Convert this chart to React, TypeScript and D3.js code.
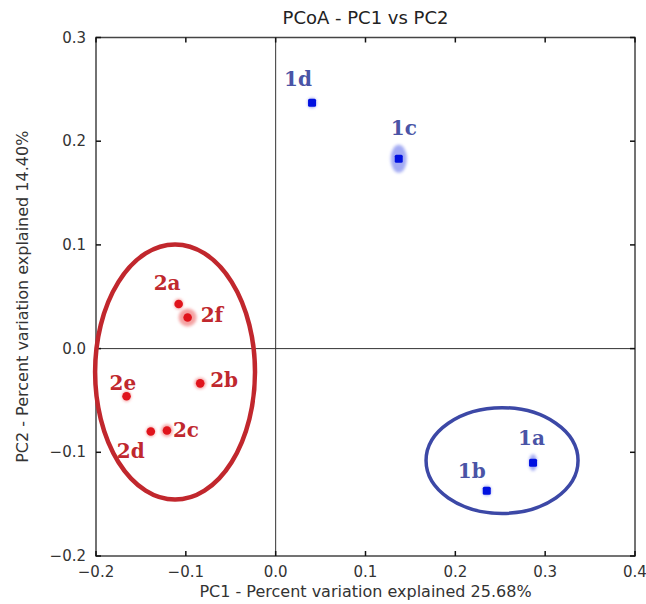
import React from 'react';
import * as d3 from 'd3';

// sample coordinates
const sampleIds = ['1a', '1b', '1c', '1d', '2a', '2b', '2c', '2d', '2e', '2f'];
const sampleGroup = ['1', '1', '1', '1', '2', '2', '2', '2', '2', '2'];
const pc1 = [0.2865, 0.235, 0.137, 0.0405, -0.108, -0.084, -0.121, -0.139, -0.166, -0.098];
const pc2 = [-0.110, -0.137, 0.183, 0.237, 0.043, -0.0335, -0.079, -0.080, -0.046, 0.030];
// jackknife spread (the soft halo round each point)
const pc1Spread = [0.0045, 0.005, 0.009, 0.005, 0.005, 0.0065, 0.0065, 0.005, 0.005, 0.010];
const pc2Spread = [0.008, 0.005, 0.0135, 0.005, 0.005, 0.0055, 0.006, 0.005, 0.005, 0.0087];

// group ellipses
const ellipseGroup = ['1', '2'];
const ellipseCx = [0.252, -0.112];
const ellipseCy = [-0.108, -0.0226];
const ellipseRx = [0.0846, 0.089];
const ellipseRy = [0.051, 0.123];

const xTicks = [-0.2, -0.1, 0.0, 0.1, 0.2, 0.3, 0.4];
const yTicks = [-0.2, -0.1, 0.0, 0.1, 0.2, 0.3];

const title = 'PCoA - PC1 vs PC2';
const xLabel = 'PC1 - Percent variation explained 25.68%';
const yLabel = 'PC2 - Percent variation explained 14.40%';

// label offsets in px from each point (same order as sampleIds)
const labelDx = [-15, -29, -8, -28, -25, 10, 6, -34, -17, 13];
const labelDy = [-18, -13, -24, -17, -14, 4, 6, 26, -6, 5];

const W = 646, H = 604;
const margin = { top: 37.5, right: 11, bottom: 48, left: 96 };

const colors: Record<string, any> = {
  '1': { point: '#0010e0', halo: '#7d88ee', label: '#4a54a6', ring: '#3c48a6' },
  '2': { point: '#e0141c', halo: '#f07a7a', label: '#c0282e', ring: '#c1272d' },
};

const fmt = (v: number) => d3.format('.1f')(v).replace('-', '\u2212');

export default function App() {
  const x = d3.scaleLinear().domain([-0.2, 0.4]).range([margin.left, W - margin.right]);
  const y = d3.scaleLinear().domain([-0.2, 0.3]).range([H - margin.bottom, margin.top]);
  const [x0, x1] = x.range();
  const [y0, y1] = y.range();
  const tick = 5;
  const axisCol = '#444';

  return (
    <svg width={W} height={H} style={{ position: 'absolute', left: 0, top: 0, background: '#fff' }}
      fontFamily="'DejaVu Sans', sans-serif">
      <defs>
        <filter id="soft" x="-1" y="-1" width="3" height="3">
          <feGaussianBlur stdDeviation="1.4" />
        </filter>
      </defs>
      <text x={(x0 + x1) / 2} y={24} textAnchor="middle" fontSize={18} fill="#222">{title}</text>

      {/* zero lines */}
      <line x1={x(0)} x2={x(0)} y1={y1} y2={y0} stroke="#333" strokeWidth={1} />
      <line x1={x0} x2={x1} y1={y(0)} y2={y(0)} stroke="#333" strokeWidth={1} />

      {/* frame */}
      <rect x={x0} y={y1} width={x1 - x0} height={y0 - y1} fill="none" stroke={axisCol} strokeWidth={1.5} />

      {xTicks.map(t => (
        <g key={'xt' + t}>
          <line x1={x(t)} x2={x(t)} y1={y0} y2={y0 - tick} stroke="#111" strokeWidth={1.5} />
          <line x1={x(t)} x2={x(t)} y1={y1} y2={y1 + tick} stroke="#111" strokeWidth={1.5} />
          <text x={x(t)} y={y0 + 21} textAnchor="middle" fontSize={15} fill="#333">{fmt(t)}</text>
        </g>
      ))}
      {yTicks.map(t => (
        <g key={'yt' + t}>
          <line x1={x0} x2={x0 + tick} y1={y(t)} y2={y(t)} stroke="#111" strokeWidth={1.5} />
          <line x1={x1} x2={x1 - tick} y1={y(t)} y2={y(t)} stroke="#111" strokeWidth={1.5} />
          <text x={x0 - 10} y={y(t) + 5} textAnchor="end" fontSize={15} fill="#333">{fmt(t)}</text>
        </g>
      ))}

      <text x={(x0 + x1) / 2} y={597} textAnchor="middle" fontSize={16} fill="#333">{xLabel}</text>
      <text transform={`translate(28,${(y0 + y1) / 2}) rotate(-90)`} textAnchor="middle" fontSize={16} fill="#333">{yLabel}</text>

      {/* group ellipses */}
      {ellipseGroup.map((g, i) => (
        <ellipse key={'e' + g} cx={x(ellipseCx[i])} cy={y(ellipseCy[i])}
          rx={x(ellipseRx[i]) - x(0)} ry={y(0) - y(ellipseRy[i])}
          fill="none" stroke={colors[g].ring} strokeWidth={g === '2' ? 4.5 : 3.5} />
      ))}

      {/* halos */}
      {sampleIds.map((s, i) => (
        <ellipse key={'h' + s} cx={x(pc1[i])} cy={y(pc2[i])}
          rx={x(pc1Spread[i]) - x(0)} ry={y(0) - y(pc2Spread[i])}
          fill={colors[sampleGroup[i]].halo} opacity={0.7} filter="url(#soft)" />
      ))}

      {/* points */}
      {sampleIds.map((s, i) => sampleGroup[i] === '1' ? (
        <rect key={'p' + s} x={x(pc1[i]) - 4} y={y(pc2[i]) - 4} width={8} height={8} rx={1.5}
          fill={colors['1'].point} />
      ) : (
        <circle key={'p' + s} cx={x(pc1[i])} cy={y(pc2[i])} r={4.3} fill={colors['2'].point} />
      ))}

      {/* labels */}
      {sampleIds.map((s, i) => (
        <text key={'l' + s} x={x(pc1[i]) + labelDx[i]} y={y(pc2[i]) + labelDy[i]}
          fontFamily="'DejaVu Serif', serif" fontWeight="bold" fontSize={20}
          fill={colors[sampleGroup[i]].label}>{s}</text>
      ))}
    </svg>
  );
}
